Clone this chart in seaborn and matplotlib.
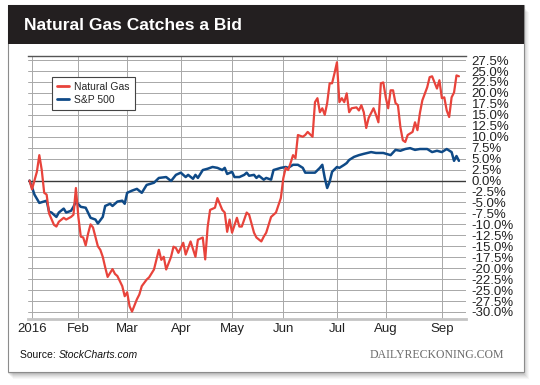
import matplotlib
matplotlib.use("Agg")
import matplotlib.pyplot as plt
from matplotlib.patches import Rectangle
from matplotlib.lines import Line2D
import seaborn as sns
import pandas as pd

# ---------------- data (percent change since Dec 31 2015, x = trading day index) ----------------
month_days = [0, 19, 39, 61, 82, 103, 125, 145, 168]
month_labels = ["2016", "Feb", "Mar", "Apr", "May", "Jun", "Jul", "Aug", "Sep"]

sp_days = [-1, 0, 1, 3, 6, 7, 8, 10, 11, 13, 14, 16, 17, 18, 20, 22, 24, 26, 27, 29,
           30, 32, 33, 35, 37, 38, 39, 41, 43, 45, 47, 50, 52, 55, 57, 59, 61, 63, 64, 66,
           67, 68, 70, 72, 74, 76, 78, 79, 80, 82, 83, 85, 87, 88, 89, 91, 92, 93, 95, 96,
           98, 99, 102, 104, 105, 107, 109, 111, 112, 114, 116, 118, 119, 120, 121, 122, 123, 125, 126, 128,
           129, 130, 132, 134, 136, 139, 141, 144, 147, 149, 151, 153, 155, 157, 159, 162, 164, 166, 168, 170,
           172, 173, 174, 175]
sp_vals = [0, -1.5, -3.2, -5.1, -4.6, -7.1, -7.3, -8.3, -7.3, -6.4, -7.3, -6.9, -6.0, -4.8, -6.0, -6.2, -8.5, -8.9, -9.8, -8.3,
           -5.8, -5.3, -5.8, -4.8, -4.6, -5.3, -2.8, -2.3, -1.9, -2.8, -1.0, -0.5, 0.6, 0.8, -0.1, 1.3, 1.8, 0.8, 1.3, 0.4,
           1.3, 0.6, 2.4, 2.7, 3.1, 2.9, 2.4, 2.9, 1.5, 2.0, 0.8, 0.8, 1.3, 1.8, 1.1, 1.3, 0.6, 1.1, 0.2, 0.6,
           0.2, 2.4, 2.9, 3.1, 2.9, 3.6, 3.6, 2.9, 1.8, 1.8, 1.8, 2.9, 3.6, 0.6, -1.7, -0.3, 2.0, 3.1, 2.9, 3.6,
           4.0, 4.7, 5.4, 5.8, 6.1, 6.5, 6.3, 6.3, 5.8, 7.0, 6.8, 7.2, 7.4, 7.0, 7.2, 7.2, 6.5, 6.8, 6.5, 7.2,
           6.5, 4.5, 5.6, 4.5]

gas_days = [-1, 0, 2, 3, 4, 5, 6, 7, 9, 10, 11, 13, 14, 16, 17, 18, 19, 20, 21, 22,
            23, 24, 25, 27, 28, 29, 30, 31, 33, 34, 35, 37, 38, 39, 40, 41, 43, 44, 45, 47,
            48, 50, 52, 53, 54, 55, 57, 58, 59, 60, 62, 63, 65, 67, 68, 70, 71, 72, 73, 75,
            76, 78, 79, 80, 81, 82, 84, 85, 86, 88, 89, 91, 92, 94, 95, 96, 98, 99, 100, 102,
            103, 104, 105, 106, 107, 108, 109, 111, 112, 113, 115, 116, 117, 118, 119, 120, 121, 122, 123, 124,
            125, 126, 127, 128, 129, 130, 131, 133, 134, 135, 136, 137, 138, 140, 141, 142, 143, 144, 145, 146,
            147, 148, 149, 150, 151, 152, 153, 154, 156, 157, 158, 159, 160, 162, 163, 164, 165, 166, 167, 168,
            169, 170, 171, 172, 173, 174, 175]
gas_vals = [0, -2.0, 2.0, 5.8, 2.4, -2.8, -3.2, -7.5, -10.1, -10.5, -9.4, -8.5, -8.9, -8.3, -7.8, -1.7, -8.3, -12.8, -13.0, -14.8,
            -12.1, -10.0, -10.7, -15.0, -15.8, -17.4, -19.8, -22.0, -20.2, -21.3, -21.8, -24.1, -26.4, -25.5, -28.7, -29.9, -27.1, -26.0, -24.1, -22.6,
            -22.1, -20.3, -15.8, -18.1, -17.4, -20.3, -17.4, -15.1, -15.4, -16.5, -14.2, -16.9, -13.9, -17.4, -13.5, -13.0, -18.0, -10.6, -6.7, -6.2,
            -4.0, -6.7, -7.3, -11.7, -8.9, -11.9, -8.5, -10.5, -10.5, -7.3, -7.8, -11.9, -13.0, -13.9, -12.8, -11.9, -8.3, -7.8, -7.3, -4.0,
            0.5, 2.9, 2.4, 4.0, 5.8, 5.1, 10.4, 10.0, 10.4, 11.1, 10.0, 17.9, 18.8, 15.6, 16.5, 15.0, 17.7, 22.2, 22.2, 24.5,
            27.0, 17.9, 18.8, 17.9, 19.9, 15.6, 16.5, 16.7, 16.0, 17.2, 15.6, 12.0, 14.3, 16.5, 15.0, 13.3, 22.2, 22.4, 19.0, 16.5,
            20.6, 20.6, 17.7, 17.2, 12.2, 9.2, 8.8, 10.4, 11.1, 13.3, 11.5, 15.4, 18.3, 21.3, 23.6, 23.8, 22.4, 21.0, 22.9, 18.8,
            19.0, 16.0, 14.5, 19.0, 20.1, 24.0, 23.8]

y_ticks = [-30 + 2.5 * i for i in range(24)]

title = "Natural Gas Catches a Bid"
series_names = ["Natural Gas", "S&P 500"]
RED = "#e8433b"
BLUE = "#0f4a87"

# ---------------- figure ----------------
sns.set_style("white")
plt.rcParams['font.family'] = ['Liberation Sans', 'DejaVu Sans']

W, H = 540, 385
fig = plt.figure(figsize=(W / 100, H / 100), dpi=100)
fig.patch.set_facecolor("white")


def fx(px):
    return px / W


def fy(py):
    return 1 - py / H


cl, ct, cr, cb = 8, 5, 524, 372
# soft drop shadow
for off, a in [(7, 0.03), (6, 0.035), (5, 0.04), (4, 0.05), (3, 0.06), (2, 0.07)]:
    fig.patches.append(Rectangle((fx(cl + off - 2), fy(cb + off)), (cr - cl) / W, (cb - ct) / H,
                                 transform=fig.transFigure, facecolor="black", alpha=a,
                                 edgecolor="none", zorder=-5))
fig.patches.append(Rectangle((fx(cl), fy(cb)), (cr - cl) / W, (cb - ct) / H, transform=fig.transFigure,
                             facecolor="white", edgecolor="#8c8c8c", lw=0.8, zorder=-4))
fig.patches.append(Rectangle((fx(cl), fy(44)), (cr - cl) / W, (44 - ct) / H, transform=fig.transFigure,
                             facecolor="#231f20", edgecolor="none", zorder=-3))
fig.text(fx(24), fy(25), title, color="white", fontsize=12.5, fontweight="bold", va="center", ha="left")

ax = fig.add_axes([fx(28), fy(319), (466 - 28) / W, (319 - 55.7) / H])
ax.set_facecolor("white")

df_sp = pd.DataFrame({"day": sp_days, "pct": sp_vals})
df_gas = pd.DataFrame({"day": gas_days, "pct": gas_vals})
sns.lineplot(data=df_sp, x="day", y="pct", color=BLUE, lw=1.8, ax=ax, legend=False, zorder=3)
sns.lineplot(data=df_gas, x="day", y="pct", color=RED, lw=1.6, ax=ax, legend=False, zorder=4)

ax.set_xlim(-1.64, 177.9)
ax.set_ylim(-31.6, 28.5)
ax.set_xticks(month_days)
ax.set_xticklabels(month_labels)
ax.set_yticks(y_ticks)
ax.set_yticklabels([f"{v:.1f}%" for v in y_ticks])
ax.set_xlabel("")
ax.set_ylabel("")
ax.yaxis.tick_right()
ax.grid(True, color="#a8a8a8", lw=0.7)
ax.set_axisbelow(True)
ax.axhline(0, color="#3a3a3a", lw=1.0, zorder=2)
ax.tick_params(axis="both", length=0, labelsize=9.5, labelcolor="#222222")
ax.tick_params(axis="y", pad=4)
ax.tick_params(axis="x", pad=3)
for s in ["left", "right"]:
    ax.spines[s].set_visible(False)
ax.spines["top"].set_color("#555555")
ax.spines["top"].set_linewidth(1.0)
ax.spines["bottom"].set_color("#c4c4c4")
ax.spines["bottom"].set_linewidth(2.0)

handles = [Line2D([], [], color=RED, lw=2), Line2D([], [], color=BLUE, lw=2)]
leg = ax.legend(handles, series_names, loc="upper left", bbox_to_anchor=(fx(52), fy(77)),
                bbox_transform=fig.transFigure, borderaxespad=0, fontsize=7.5, handlelength=1.2,
                handletextpad=0.5, borderpad=0.45, labelspacing=0.3, frameon=True, fancybox=False,
                framealpha=1, edgecolor="#444444")
leg.get_frame().set_linewidth(0.8)

# footer
t1 = fig.text(fx(20), fy(355), "Source: ", fontsize=7.5, color="#111111", va="center", ha="left")
fig.canvas.draw()
bb = t1.get_window_extent(renderer=fig.canvas.get_renderer())
fig.text(bb.x1 / W, fy(355), "StockCharts.com", fontsize=7.5, color="#111111", va="center",
         ha="left", style="italic")
fig.text(fx(504), fy(355), "DAILYRECKONING.COM", fontsize=8.5, color="#6b6b6b", va="center",
         ha="right", family=["Liberation Serif", "DejaVu Serif"])

fig.savefig("out.png", dpi=100)
